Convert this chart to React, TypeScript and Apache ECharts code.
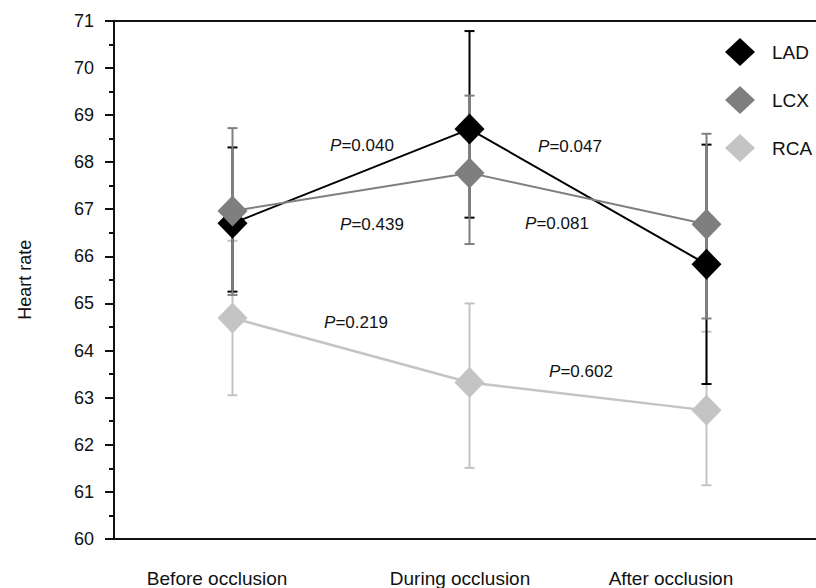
import React, { useEffect, useRef } from "react";
import * as echarts from "echarts";

// ---- data ----
const categories = ["Before occlusion", "During occlusion", "After occlusion"];
const seriesNames = ["LAD", "LCX", "RCA"];

const ladMean = [66.7, 68.7, 65.83];
const ladHigh = [68.31, 70.78, 68.37];
const ladLow = [65.25, 66.82, 63.29];

const lcxMean = [66.96, 67.77, 66.68];
const lcxHigh = [68.72, 69.41, 68.6];
const lcxLow = [65.18, 66.26, 64.68];

const rcaMean = [64.69, 63.32, 62.73];
const rcaHigh = [66.33, 65.0, 64.4];
const rcaLow = [63.05, 61.51, 61.14];

const pLabels = ["0.040", "0.439", "0.047", "0.081", "0.219", "0.602"];

const yTicks = { min: 60, max: 71, interval: 1 };

// ---- layout / styling ----
const FONT = "'Liberation Sans', Arial, Helvetica, sans-serif";
const COLORS = { LAD: "#000000", LCX: "#7f7f7f", RCA: "#c4c4c4" };
const X_MIN = -0.5;
const X_MAX = 2.462; // the plot box runs past the right edge of the picture
// label anchor positions (x-axis units) as seen in the reference
const labelAnchors = [-0.065, 0.96, 1.85];
// P-value annotation centres (px)
const pPos = [
  [362, 145],
  [372, 224],
  [570, 146],
  [557, 223],
  [356, 322],
  [581, 371],
];

function pts(vals: number[]) {
  return vals.map((v, i) => [i, v]);
}
function errs(low: number[], high: number[]) {
  return low.map((l, i) => [i, l, high[i]]);
}

function errorSeries(name: string, low: number[], high: number[], color: string) {
  return {
    type: "custom",
    name: name + "_err",
    data: errs(low, high),
    z: 2,
    renderItem: (params: any, api: any) => {
      const x = api.value(0);
      const lo = api.coord([x, api.value(1)]);
      const hi = api.coord([x, api.value(2)]);
      const cap = 5;
      const style = { stroke: color, lineWidth: 2, fill: "none" };
      return {
        type: "group",
        children: [
          { type: "line", shape: { x1: lo[0], y1: lo[1], x2: hi[0], y2: hi[1] }, style },
          { type: "line", shape: { x1: hi[0] - cap, y1: hi[1], x2: hi[0] + cap, y2: hi[1] }, style },
          { type: "line", shape: { x1: lo[0] - cap, y1: lo[1], x2: lo[0] + cap, y2: lo[1] }, style },
        ],
      };
    },
  };
}

function lineSeries(name: string, vals: number[], color: string, width: number) {
  return {
    type: "line",
    name,
    data: pts(vals),
    z: 3,
    symbol: "diamond",
    symbolSize: [30, 31],
    itemStyle: { color },
    lineStyle: { color, width },
  };
}

export default function App() {
  const ref = useRef<HTMLDivElement>(null);
  useEffect(() => {
    if (!ref.current) return;
    const chart = echarts.init(ref.current, undefined, { renderer: "svg" });
    const axisLineStyle = { color: "#111", width: 2 };
    const option: any = {
      animation: false,
      backgroundColor: "#ffffff",
      textStyle: { fontFamily: FONT },
      grid: {
        left: 114,
        top: 20.7,
        right: 0,
        height: 520,
        show: false,
        containLabel: false,
      },
      legend: {
        data: seriesNames,
        orient: "vertical",
        left: 725,
        top: 38,
        padding: 0,
        itemWidth: 30,
        itemHeight: 28,
        itemGap: 20,
        icon: "diamond",
        textStyle: { fontSize: 19, color: "#111", fontFamily: FONT, padding: [0, 0, 0, 12] },
      },
      xAxis: [
        {
          type: "value",
          min: X_MIN,
          max: X_MAX,
          position: "bottom",
          axisLine: { show: true, onZero: false, lineStyle: axisLineStyle },
          axisTick: { show: false },
          splitLine: { show: false },
          axisLabel: {
            customValues: labelAnchors,
            fontSize: 19,
            color: "#111",
            fontFamily: FONT,
            margin: 30,
            formatter: (v: number) => {
              let best = 0;
              let bd = Infinity;
              labelAnchors.forEach((a, i) => {
                const d = Math.abs(a - v);
                if (d < bd) {
                  bd = d;
                  best = i;
                }
              });
              return categories[best];
            },
          },
        },
        {
          type: "value",
          min: X_MIN,
          max: X_MAX,
          position: "top",
          axisLine: { show: true, onZero: false, lineStyle: axisLineStyle },
          axisTick: { show: false },
          axisLabel: { show: false },
          splitLine: { show: false },
        },
      ],
      yAxis: {
        type: "value",
        min: yTicks.min,
        max: yTicks.max,
        interval: yTicks.interval,
        name: "Heart rate",
        nameLocation: "middle",
        nameGap: 80,
        nameTextStyle: { fontSize: 18, color: "#111", fontFamily: FONT },
        axisLine: { show: true, onZero: false, lineStyle: axisLineStyle },
        axisTick: { show: true, length: 9, lineStyle: axisLineStyle },
        minorTick: { show: true, splitNumber: 2, length: 5, lineStyle: axisLineStyle },
        splitLine: { show: false },
        axisLabel: { fontSize: 18, color: "#111", fontFamily: FONT, margin: 20 },
      },
      graphic: pLabels.map((p, i) => ({
        type: "text",
        x: pPos[i][0],
        y: pPos[i][1],
        z: 10,
        style: {
          text: "{i|P}=" + p,
          rich: {
            i: { fontStyle: "italic", fontSize: 17, fontFamily: FONT, fill: "#111" },
          },
          fontSize: 17,
          fontFamily: FONT,
          fill: "#111",
          align: "center",
          verticalAlign: "middle",
        },
      })),
      series: [
        errorSeries("RCA", rcaLow, rcaHigh, COLORS.RCA),
        lineSeries("RCA", rcaMean, COLORS.RCA, 2.5),
        errorSeries("LAD", ladLow, ladHigh, COLORS.LAD),
        lineSeries("LAD", ladMean, COLORS.LAD, 2),
        errorSeries("LCX", lcxLow, lcxHigh, COLORS.LCX),
        lineSeries("LCX", lcxMean, COLORS.LCX, 2),
      ],
    };
    chart.setOption(option);
    return () => chart.dispose();
  }, []);
  return (
    <div
      ref={ref}
      style={{ position: "fixed", left: 0, top: 0, width: 816, height: 588, background: "#fff" }}
    />
  );
}
